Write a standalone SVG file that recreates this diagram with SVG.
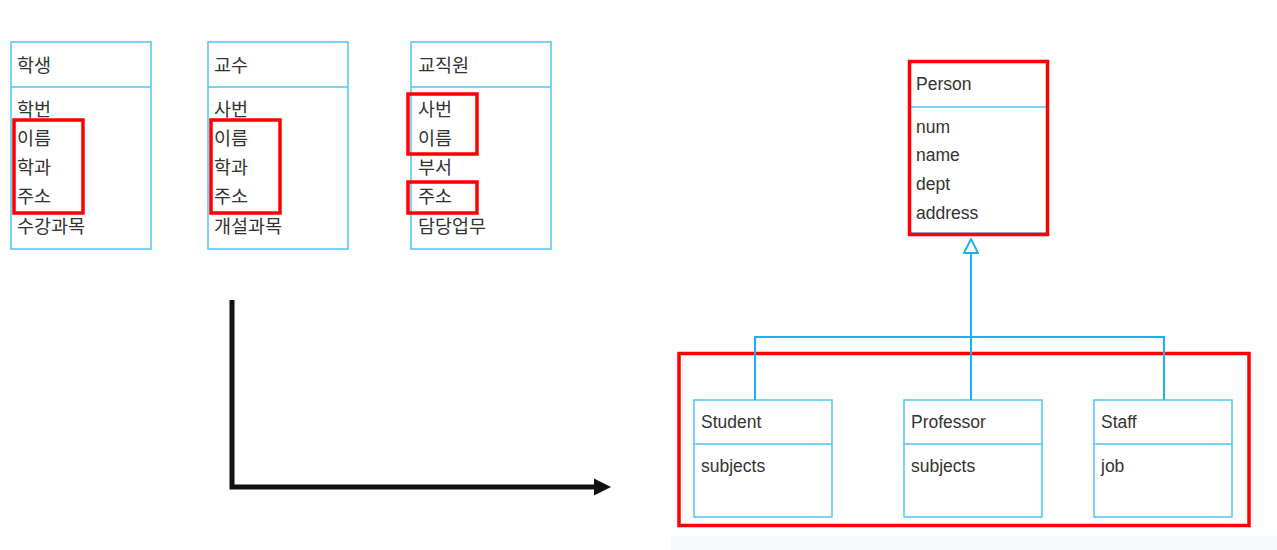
<svg xmlns="http://www.w3.org/2000/svg" width="1277" height="550" viewBox="0 0 1277 550">
<defs>
<style>
.box{fill:#fff;stroke:#4fc3f7;stroke-width:1.5}
.div{stroke:#4fc3f7;stroke-width:1.5}
.t{font-family:"Liberation Sans","Noto Sans CJK KR",sans-serif;font-size:17.5px;fill:#333}
.k{font-family:"Noto Sans CJK KR",sans-serif;font-size:18.5px;fill:#333}
.hl{fill:none;stroke:#ff0000;stroke-width:3.5}
.conn{fill:none;stroke:#1fb0f0;stroke-width:2}
.blk{fill:none;stroke:#111;stroke-width:5}
</style>
<marker id="tri" markerWidth="16" markerHeight="16" refX="1" refY="8" orient="auto" markerUnits="userSpaceOnUse">
<path d="M1,1 L15,8 L1,15 Z" fill="#fff" stroke="#1fb0f0" stroke-width="2"/>
</marker>
<marker id="blkarrow" markerWidth="18" markerHeight="18" refX="2" refY="9" orient="auto" markerUnits="userSpaceOnUse">
<path d="M0,0.5 L17,9 L0,17.5 Z" fill="#111"/>
</marker>
</defs>
<rect width="1277" height="550" fill="#fff"/>
<rect x="671" y="536" width="606" height="14" fill="#f8f9fa"/>

<g id="student-kr">
<rect class="box" x="11" y="42" width="140" height="207"/>
<line class="div" x1="11" y1="87" x2="151" y2="87"/>
<text class="k" x="17" y="72">학생</text>
<text class="k" x="17" y="116">학번</text>
<text class="k" x="17" y="145">이름</text>
<text class="k" x="17" y="174">학과</text>
<text class="k" x="17" y="203">주소</text>
<text class="k" x="17" y="233">수강과목</text>
<rect class="hl" x="14" y="120" width="69" height="93"/>
</g>

<g id="professor-kr">
<rect class="box" x="208" y="42" width="140" height="207"/>
<line class="div" x1="208" y1="87" x2="348" y2="87"/>
<text class="k" x="214" y="72">교수</text>
<text class="k" x="214" y="116">사번</text>
<text class="k" x="214" y="145">이름</text>
<text class="k" x="214" y="174">학과</text>
<text class="k" x="214" y="203">주소</text>
<text class="k" x="214" y="233">개설과목</text>
<rect class="hl" x="211" y="120" width="69" height="93"/>
</g>

<g id="staff-kr">
<rect class="box" x="411" y="42" width="140" height="207"/>
<line class="div" x1="411" y1="87" x2="551" y2="87"/>
<text class="k" x="418" y="72">교직원</text>
<text class="k" x="418" y="116">사번</text>
<text class="k" x="418" y="145">이름</text>
<text class="k" x="418" y="174">부서</text>
<text class="k" x="418" y="203">주소</text>
<text class="k" x="418" y="233">담당업무</text>
<rect class="hl" x="408" y="94" width="69" height="60"/>
<rect class="hl" x="408" y="182" width="69" height="31"/>
</g>

<g id="person">
<rect class="box" x="910" y="62" width="137" height="171"/>
<line class="div" x1="910" y1="107" x2="1047" y2="107"/>
<text class="t" x="916" y="90">Person</text>
<text class="t" x="916" y="133">num</text>
<text class="t" x="916" y="161">name</text>
<text class="t" x="916" y="190">dept</text>
<text class="t" x="916" y="219">address</text>
<rect class="hl" x="909.5" y="61.5" width="138" height="173"/>
</g>

<g id="student">
<rect class="box" x="694" y="400" width="138" height="117"/>
<line class="div" x1="694" y1="444" x2="832" y2="444"/>
<text class="t" x="701" y="428">Student</text>
<text class="t" x="701" y="472">subjects</text>
</g>

<g id="professor">
<rect class="box" x="904" y="400" width="138" height="117"/>
<line class="div" x1="904" y1="444" x2="1042" y2="444"/>
<text class="t" x="911" y="428">Professor</text>
<text class="t" x="911" y="472">subjects</text>
</g>

<g id="staff">
<rect class="box" x="1094" y="400" width="138" height="117"/>
<line class="div" x1="1094" y1="444" x2="1232" y2="444"/>
<text class="t" x="1101" y="428">Staff</text>
<text class="t" x="1101" y="472">job</text>
</g>

<g id="subclasses-highlight">
<rect class="hl" x="679" y="353.5" width="570" height="172"/>
</g>

<g id="connectors">
<path class="conn" d="M755,400 V337 H1164 V400"/>
<path class="conn" d="M971,400 V253" marker-end="url(#tri)"/>
<path class="blk" d="M232,300 V487 H596" marker-end="url(#blkarrow)"/>
</g>
</svg>
